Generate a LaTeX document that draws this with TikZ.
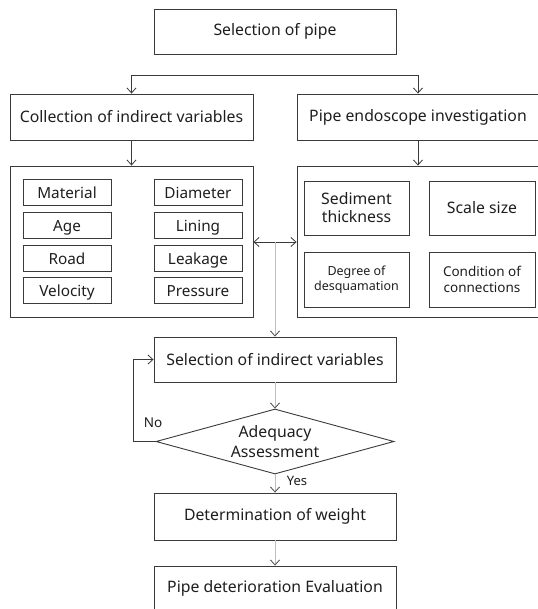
\documentclass[tikz,border=0pt]{standalone}
\usepackage{fontspec}
\setmainfont{Noto Sans}
\usetikzlibrary{arrows.meta,shapes.geometric}
\definecolor{ln}{HTML}{3A3A3A}
\definecolor{tx}{HTML}{1E1E1E}
\begin{document}
\begin{tikzpicture}[x=1pt,y=-1pt,
  bx/.style={draw=ln,line width=0.9pt,inner sep=0pt,align=center,text=tx,font=\fontsize{15.8}{19}\selectfont},
  item/.style={draw=ln,line width=0.9pt,inner sep=0pt,minimum width=88pt,minimum height=26pt,text height=13.6pt,text depth=1.2pt,text=tx,font=\fontsize{15.3}{18}\selectfont},
  ritem/.style={draw=ln,line width=0.9pt,inner sep=0pt,align=center,text=tx,minimum height=54pt},
  cont/.style={draw=ln,line width=0.9pt,inner sep=0pt,minimum height=151pt},
  lab/.style={text=tx,inner sep=0pt,font=\fontsize{13.5}{16}\selectfont},
  arr/.style={draw=ln,line width=0.8pt,-{Straight Barb[length=5pt,width=9pt]}},
  plain/.style={draw=ln,line width=0.8pt},
  garr/.style={draw=black!25,line width=0.8pt,-{Straight Barb[length=5pt,width=9pt,color=black!70]}}
]
\useasboundingbox (0,0) rectangle (537,609);

% top
\node[bx,minimum width=242pt,minimum height=45pt] (sel) at (275,31.5) {Selection of pipe};
\node[bx,minimum width=243pt,minimum height=46pt] (coll) at (131.5,117) {Collection of indirect variables};
\node[bx,minimum width=242pt,minimum height=46pt] (endo) at (418,117) {Pipe endoscope investigation};

\coordinate (bl) at (131.5,75);
\coordinate (br) at (418,75);
\draw[plain] (bl) -- (br);
\draw[arr] (bl) -- (coll.north);
\draw[arr] (br) -- (endo.north);

% containers
\node[cont,minimum width=243pt] (lc) at (131.5,241.5) {};
\node[cont,minimum width=243pt] (rc) at (418.5,241.5) {};
\draw[arr] (coll.south) -- (lc.north);
\draw[arr] (endo.south) -- (endo.south |- rc.north);

% left items
\node[item] (mat) at (67,192) {Material};
\node[item] (dia) at (198,192) {Diameter};
\node[item] (age) at (67,225) {Age};
\node[item] (lin) at (198,225) {Lining};
\node[item] (road) at (67,258) {Road};
\node[item] (leak) at (198,258) {Leakage};
\node[item] (vel) at (67,290.5) {Velocity};
\node[item] (pres) at (198,290.5) {Pressure};

% right items
\node[ritem,minimum width=105pt,font=\fontsize{15.8}{18}\selectfont] (sed) at (356.5,208) {Sediment\\thickness};
\node[ritem,minimum width=106pt,font=\fontsize{15.8}{18}\selectfont] (scale) at (482,208) {Scale size};
\node[ritem,minimum width=105pt,minimum height=55pt,font=\fontsize{12.5}{15}\selectfont] (deg) at (356.5,279.5) {Degree of\\desquamation};
\node[ritem,minimum width=106pt,minimum height=55pt,font=\fontsize{13.5}{16}\selectfont] (cond) at (482,279.5) {Condition of\\connections};

% bidirectional link
\coordinate (mid) at (275,242);
\draw[draw=ln,line width=0.8pt,{Straight Barb[length=5pt,width=9pt]}-{Straight Barb[length=5pt,width=9pt]}] (lc.east |- mid) -- (rc.west |- mid);

% lower flow
\node[bx,minimum width=242pt,minimum height=45pt] (vsel) at (275,359.5) {Selection of indirect variables};
\draw[garr] (mid) -- (vsel.north);

\node[draw=ln,line width=0.9pt,diamond,shape aspect=3.66,inner sep=0pt,minimum width=238pt,minimum height=65pt,align=center,text=tx,font=\fontsize{15.8}{20}\selectfont] (adq) at (275,441.5) {Adequacy\\Assessment};
\draw[garr] (vsel.south) -- (adq.north);

\coordinate (fb) at (133,441.5);
\draw[arr] (adq.west) -- (fb) |- (vsel.west);
\node[lab] (no) at (153,423) {No};

\node[bx,minimum width=242pt,minimum height=47pt] (det) at (275,516.5) {Determination of weight};
\draw[garr] (adq.south) -- (det.north);
\node[lab,font=\fontsize{13}{15}\selectfont] (yes) at (297,481) {Yes};

\node[bx,minimum width=242pt,minimum height=45pt] (eval) at (275,588.5) {Pipe deterioration Evaluation};
\draw[garr] (det.south) -- (eval.north);
\end{tikzpicture}
\end{document}
